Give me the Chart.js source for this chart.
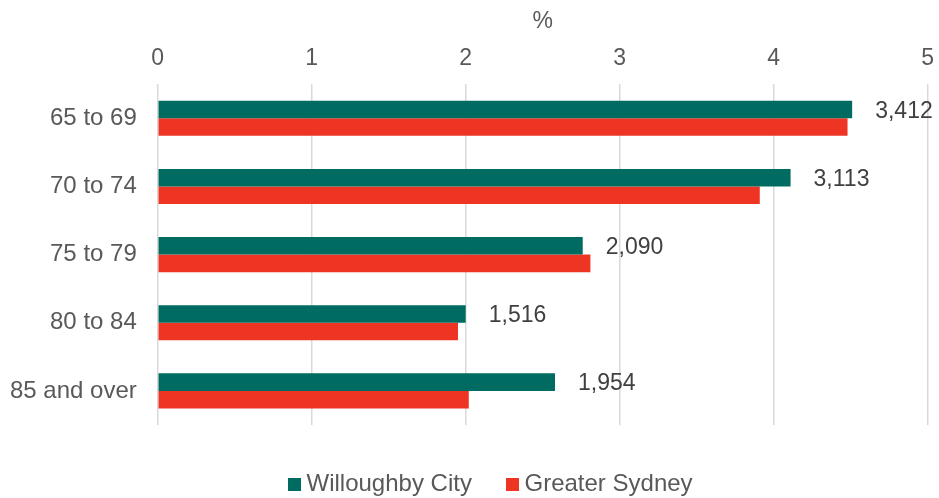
<!DOCTYPE html>
<html>
<head>
<meta charset="utf-8">
<script src="https://cdn.jsdelivr.net/npm/chart.js@4/dist/chart.umd.min.js"></script>
<style>
html,body{margin:0;padding:0;background:#fff;}
#wrap{width:939px;height:498px;position:relative;}
</style>
</head>
<body>
<div id="wrap"><canvas id="c" width="939" height="498"></canvas></div>
<script>
const categories = ["65 to 69", "70 to 74", "75 to 79", "80 to 84", "85 and over"];
const willoughby = [4.51, 4.11, 2.76, 2.00, 2.58];
const greaterSydney = [4.48, 3.91, 2.81, 1.95, 2.02];
const willoughbyCounts = ["3,412", "3,113", "2,090", "1,516", "1,954"];
const xTicks = [0, 1, 2, 3, 4, 5];
const seriesColors = ['#006b60', '#ee3524'];

const FONT = '"Liberation Sans", Arial, sans-serif';

function squareSwatch(color) {
  const c = document.createElement('canvas');
  c.width = 13; c.height = 13;
  const g = c.getContext('2d');
  g.fillStyle = color;
  g.fillRect(0, 0, 13, 13);
  return c;
}
const swatches = seriesColors.map(squareSwatch);

const labelPlugin = {
  id: 'countLabels',
  afterDatasetsDraw(chart) {
    const ctx = chart.ctx;
    const meta = chart.getDatasetMeta(0);
    ctx.save();
    ctx.font = '23px ' + FONT;
    ctx.fillStyle = '#404040';
    ctx.textAlign = 'left';
    ctx.textBaseline = 'middle';
    meta.data.forEach((bar, i) => {
      ctx.fillText(willoughbyCounts[i], bar.x + 23, bar.y + 2);
    });
    ctx.restore();
  }
};

const spacerPlugin = {
  id: 'legendSpacer',
  beforeInit(chart) {
    Chart.layouts.addBox(chart, {
      position: 'bottom',
      weight: 500,
      fullSize: true,
      options: {},
      top: 0, left: 0, right: 0, bottom: 0, width: 0, height: 0,
      isHorizontal() { return true; },
      update(w, h) { this.width = w; this.height = 6.5; },
      draw() {}
    });
  },
  afterLayout(chart) {
    if (chart.legend) {
      chart.legend.left += 35;
      chart.legend.right += 35;
    }
  }
};

new Chart(document.getElementById('c'), {
  type: 'bar',
  data: {
    labels: categories,
    datasets: [
      { label: 'Willoughby City', data: willoughby, backgroundColor: seriesColors[0], borderWidth: 0 },
      { label: 'Greater Sydney', data: greaterSydney, backgroundColor: seriesColors[1], borderWidth: 0 }
    ]
  },
  options: {
    indexAxis: 'y',
    responsive: false,
    animation: false,
    layout: { padding: { left: -11, right: 11, top: 6, bottom: -8 } },
    datasets: { bar: { categoryPercentage: 0.515, barPercentage: 1.0 } },
    scales: {
      x: {
        position: 'top',
        min: 0, max: 5,
        afterBuildTicks(axis) { axis.ticks = xTicks.map(v => ({ value: v })); },
        ticks: {
          color: '#595959',
          font: { family: FONT, size: 23 },
          padding: 5
        },
        grid: { color: '#d9d9d9', lineWidth: 1.5, drawTicks: true, tickLength: 7, tickColor: 'rgba(0,0,0,0)' },
        border: { display: false },
        title: {
          display: true, text: '%', color: '#595959',
          font: { family: FONT, size: 23 },
          padding: { top: 2, bottom: 4 }
        }
      },
      y: {
        grid: { display: false, drawTicks: false },
        border: { display: false },
        ticks: {
          color: '#595959',
          font: { family: FONT, size: 24 },
          padding: 21
        }
      }
    },
    plugins: {
      legend: {
        position: 'bottom',
        labels: {
          color: '#595959',
          font: { family: FONT, size: 24 },
          boxWidth: 13, boxHeight: 13, padding: 40.5,
          usePointStyle: true,
          pointStyleWidth: 0.1,
          generateLabels(chart) {
            const items = Chart.defaults.plugins.legend.labels.generateLabels(chart);
            items.forEach((it, i) => { it.pointStyle = swatches[it.datasetIndex ?? i]; });
            return items;
          }
        }
      },
      tooltip: { enabled: false }
    }
  },
  plugins: [labelPlugin, spacerPlugin]
});
</script>
</body>
</html>
